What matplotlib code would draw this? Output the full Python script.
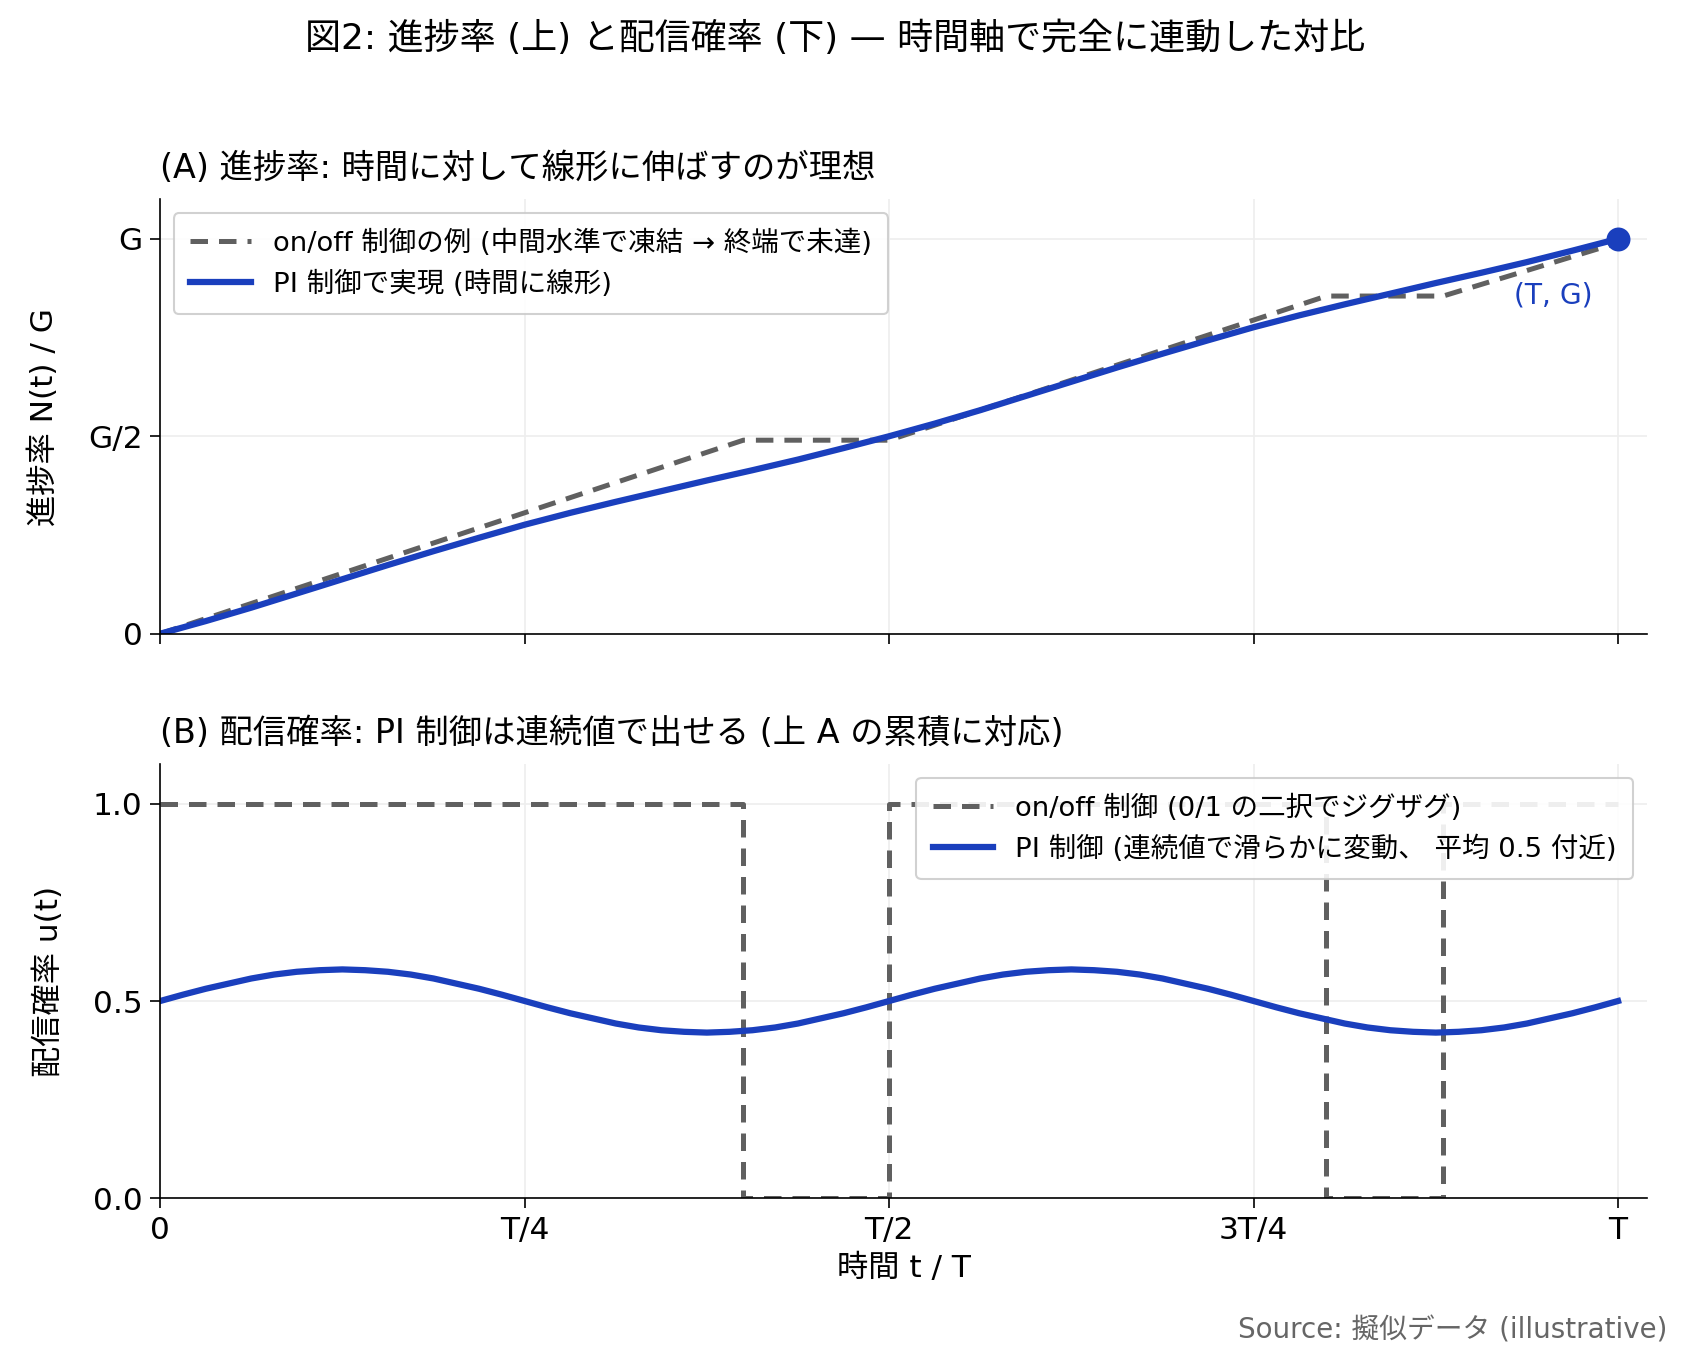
import matplotlib
matplotlib.use("Agg")
import matplotlib.pyplot as plt

plt.rcParams['font.family'] = ['DejaVu Sans', 'Noto Sans CJK JP']

BLUE = "#1a3fbd"
GRAY = "#606060"

# PI control: cumulative progress N(t)/G, sampled every T/32
t_n = [i / 32 for i in range(33)]
n_pi = [0.0, 0.032, 0.066, 0.102, 0.138, 0.174, 0.209, 0.243, 0.276,
        0.306, 0.334, 0.361, 0.388, 0.414, 0.441, 0.470, 0.5,
        0.532, 0.566, 0.602, 0.638, 0.674, 0.709, 0.743, 0.776,
        0.806, 0.834, 0.861, 0.888, 0.914, 0.941, 0.970, 1.0]

# PI control: delivery probability u(t), sampled every T/64 (two equal periods)
t_u = [i / 64 for i in range(65)]
u_period = [0.5, 0.516, 0.531, 0.544, 0.557, 0.567, 0.574, 0.578, 0.58,
            0.578, 0.574, 0.567, 0.557, 0.544, 0.531, 0.516, 0.5,
            0.484, 0.469, 0.456, 0.443, 0.433, 0.426, 0.422, 0.42,
            0.422, 0.426, 0.433, 0.443, 0.456, 0.469, 0.484, 0.5]
u_pi = u_period + u_period[1:]

# on/off control: progress breakpoints
t_onoff_n = [0.0, 0.4, 0.5, 0.8, 0.88, 1.0]
n_onoff = [0.0, 0.49, 0.49, 0.855, 0.855, 0.99]

# on/off control: switching times and u values (step)
t_onoff_u = [0.0, 0.4, 0.4, 0.5, 0.5, 0.8, 0.8, 0.88, 0.88, 1.0]
u_onoff = [1, 1, 0, 0, 1, 1, 0, 0, 1, 1]

x_ticks = [0, 0.25, 0.5, 0.75, 1.0]
x_ticklabels = ["0", "T/4", "T/2", "3T/4", "T"]
y_ticks_top = [0, 0.5, 1.0]
y_ticklabels_top = ["0", "G/2", "G"]
y_ticks_bot = [0.0, 0.5, 1.0]

fig, (ax1, ax2) = plt.subplots(2, 1, figsize=(11.24, 9.10), dpi=150)
fig.subplots_adjust(left=0.095, right=0.977, top=0.854, bottom=0.122, hspace=0.30)

# top panel
ax1.plot(t_onoff_n, n_onoff, color=GRAY, lw=2.4, ls=(0, (3.5, 2.2)),
         label="on/off 制御の例 (中間水準で凍結 → 終端で未達)")
ax1.plot(t_n, n_pi, color=BLUE, lw=3.0, label="PI 制御で実現 (時間に線形)")
ax1.plot([t_n[-1]], [n_pi[-1]], "o", color=BLUE, ms=10.5, zorder=5)
ax1.annotate("(T, G)", xy=(t_n[-1], n_pi[-1]), xytext=(-12, -27),
             textcoords="offset points", ha="right", va="center",
             color=BLUE, fontsize=13.5)
ax1.set_xlim(0, 1.02)
ax1.set_ylim(0, 1.1)
ax1.set_xticks(x_ticks)
ax1.set_xticklabels([])
ax1.set_yticks(y_ticks_top)
ax1.set_yticklabels(y_ticklabels_top)
ax1.set_ylabel("進捗率 N(t) / G", fontsize=15, labelpad=14)
ax1.set_title("(A) 進捗率: 時間に対して線形に伸ばすのが理想", loc="left",
              fontsize=16, pad=10)
ax1.legend(loc="upper left", fontsize=13.2, handlelength=2.2,
           framealpha=0.9, edgecolor="#cccccc", borderpad=0.6)

# bottom panel
ax2.plot(t_onoff_u, u_onoff, color=GRAY, lw=2.4, ls=(0, (3.5, 2.2)),
         label="on/off 制御 (0/1 の二択でジグザグ)")
ax2.plot(t_u, u_pi, color=BLUE, lw=3.0,
         label="PI 制御 (連続値で滑らかに変動、 平均 0.5 付近)")
ax2.set_xlim(0, 1.02)
ax2.set_ylim(0, 1.1)
ax2.set_xticks(x_ticks)
ax2.set_xticklabels(x_ticklabels)
ax2.set_yticks(y_ticks_bot)
ax2.set_yticklabels(["0.0", "0.5", "1.0"])
ax2.set_xlabel("時間 t / T", fontsize=15)
ax2.set_ylabel("配信確率 u(t)", fontsize=15, labelpad=14)
ax2.set_title("(B) 配信確率: PI 制御は連続値で出せる (上 A の累積に対応)",
              loc="left", fontsize=16, pad=10)
ax2.legend(loc="upper right", fontsize=13.2, handlelength=2.2,
           framealpha=0.9, edgecolor="#cccccc", borderpad=0.6)

for ax in (ax1, ax2):
    ax.grid(True, color="#eeeeee", lw=0.8)
    ax.set_axisbelow(True)
    ax.spines["top"].set_visible(False)
    ax.spines["right"].set_visible(False)
    ax.tick_params(labelsize=15, length=5)

fig.suptitle("図2: 進捗率 (上) と配信確率 (下) — 時間軸で完全に連動した対比",
             fontsize=17.3, x=0.495, y=0.985)
fig.text(0.989, 0.015, "Source: 擬似データ (illustrative)", ha="right",
         va="bottom", fontsize=13.3, color="#666666")

fig.savefig("out.png", dpi=150)
